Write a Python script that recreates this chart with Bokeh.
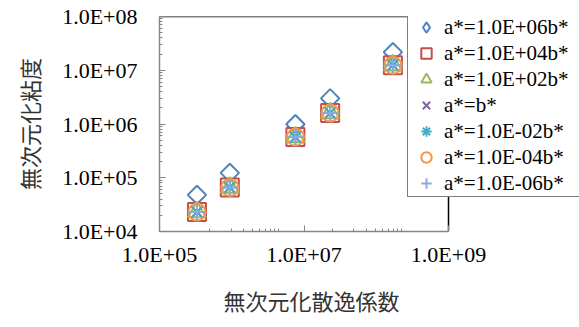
import numpy as np
from bokeh.plotting import figure
from bokeh.models import Range1d, FixedTicker, Legend, LegendItem, Title
from bokeh.embed import file_html
from bokeh.resources import INLINE

# Dimensionless dissipation number (x) and dimensionless viscosity (y) per a*/b* ratio
dissipation = [3.3e5, 9.4e5, 7.6e6, 2.3e7, 1.7e8]
visc_a_1e06 = [4.8e4, 1.23e5, 9.9e5, 3.0e6, 2.17e7]
visc_a_1e04 = [2.3e4, 6.6e4, 5.7e5, 1.6e6, 1.24e7]
visc_a_1e02 = [2.3e4, 6.6e4, 5.7e5, 1.6e6, 1.24e7]
visc_a_1e00 = [2.3e4, 6.6e4, 5.7e5, 1.6e6, 1.24e7]
visc_a_1em02 = [2.3e4, 6.6e4, 5.7e5, 1.6e6, 1.24e7]
visc_a_1em04 = [2.3e4, 6.6e4, 5.7e5, 1.6e6, 1.24e7]
visc_a_1em06 = [2.3e4, 6.6e4, 5.7e5, 1.6e6, 1.24e7]

series_labels = ["a*=1.0E+06b*", "a*=1.0E+04b*", "a*=1.0E+02b*", "a*=b*",
                 "a*=1.0E-02b*", "a*=1.0E-04b*", "a*=1.0E-06b*"]
series_values = [visc_a_1e06, visc_a_1e04, visc_a_1e02, visc_a_1e00,
                 visc_a_1em02, visc_a_1em04, visc_a_1em06]

x_major = [1e5, 1e7, 1e9]
y_major = [1e4, 1e5, 1e6, 1e7, 1e8]

# marker, colour, size, angle, legend marker
styles = [
    ("square", "#4F81BD", 13, np.pi / 4, "diamond"),
    ("square", "#C0504D", 18, 0.0, "square"),
    ("triangle", "#9BBB59", 18, 0.0, "triangle"),
    ("x", "#8064A2", 16, 0.0, "x"),
    ("asterisk", "#4BACC6", 16, 0.0, "asterisk"),
    ("circle", "#F79646", 17, 0.0, "circle"),
    ("cross", "#8EAADB", 17, 0.0, "cross"),
]

SERIF = "Liberation Serif"
CJK = "Noto Sans CJK JP"

# The frame runs on to the right edge so the legend can sit beside the data box;
# the axes themselves stop at the last major tick.
W, H = 579, 327
left, box_right, top, bottom = 159, 448, 16, 90
box_w = box_right - left
frame_w = W - left
x_lo, x_hi = x_major[0], x_major[-1]
decades = np.log10(x_hi) - np.log10(x_lo)
x_end = 10 ** (np.log10(x_lo) + decades * frame_w / box_w)

p = figure(width=W, height=H, x_axis_type="log", y_axis_type="log",
           x_range=Range1d(x_lo, x_end), y_range=Range1d(y_major[0], y_major[-1]),
           output_backend="svg", toolbar_location=None,
           min_border_left=left, min_border_right=0,
           min_border_top=top, min_border_bottom=bottom)
p.background_fill_color = "white"
p.border_fill_color = "white"
p.outline_line_color = None
p.xgrid.visible = False
p.ygrid.visible = False

# Top and right edges of the data box
p.segment(x0=[x_lo, x_hi], y0=[y_major[-1], y_major[0]],
          x1=[x_hi, x_hi], y1=[y_major[-1], y_major[-1]],
          line_color="black", line_width=1.5)

# Axis minor ticks
x_minor = [4.9e5 * k for k in range(1, 10)] + [2.45e7 * k for k in range(1, 10)]
y_minor = [k * 10.0 ** e for e in range(4, 8) for k in range(2, 10)]
p.xaxis.ticker = FixedTicker(ticks=x_major, minor_ticks=x_minor)
p.yaxis.ticker = FixedTicker(ticks=y_major, minor_ticks=y_minor)
p.xaxis.major_label_overrides = {v: f"{v:.1E}" for v in x_major}
p.yaxis.major_label_overrides = {v: f"{v:.1E}" for v in y_major}
p.xaxis.bounds = (x_lo, x_hi)

for ax in (p.xaxis, p.yaxis):
    ax.axis_line_color = "#868686"
    ax.axis_line_width = 1.5
    ax.major_tick_line_color = "#868686"
    ax.minor_tick_line_color = "#868686"
    ax.major_tick_in = 6
    ax.major_tick_out = 0
    ax.minor_tick_in = 3
    ax.minor_tick_out = 0
    ax.major_label_text_font = SERIF
    ax.major_label_text_font_size = "22px"
    ax.major_label_text_color = "black"

p.xaxis.major_label_standoff = 10
p.yaxis.major_label_standoff = 22

p.yaxis.axis_label = "無次元化粘度"
p.yaxis.axis_label_text_font = CJK
p.yaxis.axis_label_text_font_size = "22px"
p.yaxis.axis_label_text_font_style = "normal"
p.yaxis.axis_label_text_color = "#333333"
p.yaxis.axis_label_standoff = 14

# x-axis title sits under the data box rather than under the whole frame
x_title = Title(text="無次元化散逸係数", align="left", offset=64, standoff=24,
                text_font=CJK, text_font_size="22px", text_font_style="normal",
                text_color="#333333")
p.add_layout(x_title, "below")

items = []
for label, vals, (marker, color, size, angle, lmarker) in zip(series_labels, series_values, styles):
    r = p.scatter(dissipation, vals, marker=marker, size=size, angle=angle,
                  fill_alpha=0, line_color=color, line_width=2)
    if lmarker != marker:
        # legend swatch taken from a hidden twin renderer
        r = p.scatter(dissipation, vals, marker=lmarker, size=size,
                      fill_alpha=0, line_color=color, line_width=2, visible=False)
    items.append(LegendItem(label=label, renderers=[r]))

legend = Legend(items=items, location=(248, 34), padding=0, spacing=0,
                glyph_width=36, glyph_height=26, label_height=26,
                label_width=140, label_standoff=-7,
                border_line_color="black", border_line_width=1.5,
                background_fill_color="white", background_fill_alpha=1.0,
                margin=0)
p.add_layout(legend, "center")
legend.label_text_font = SERIF
legend.label_text_font_size = "21px"
legend.label_text_font_style = "normal"
legend.label_text_color = "black"

open("out.html", "w").write(file_html(p, INLINE))
